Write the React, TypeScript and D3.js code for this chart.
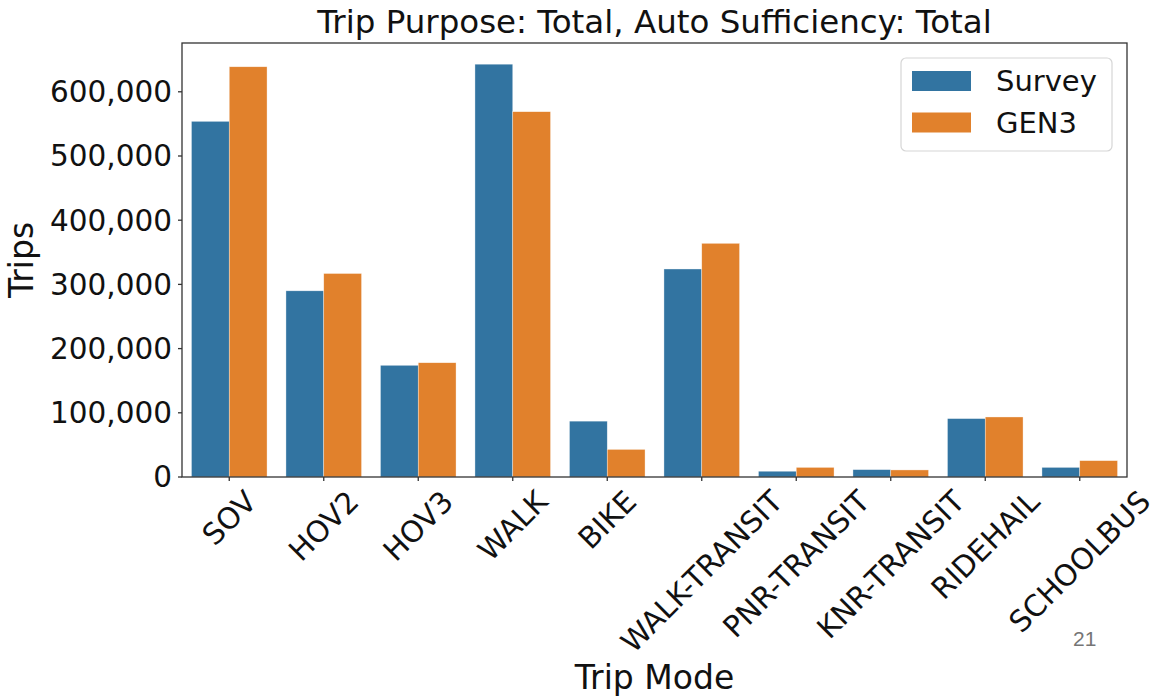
import React from "react";
import * as d3 from "d3";

const categories = ["SOV", "HOV2", "HOV3", "WALK", "BIKE", "WALK-TRANSIT", "PNR-TRANSIT", "KNR-TRANSIT", "RIDEHAIL", "SCHOOLBUS"];
const seriesNames = ["Survey", "GEN3"];
const surveyValues = [554000, 290000, 174000, 643000, 87000, 324000, 9000, 11500, 91000, 15000];
const gen3Values = [639000, 317000, 178000, 569000, 43000, 364000, 15000, 11000, 93500, 25500];
const yTicks = [0, 100000, 200000, 300000, 400000, 500000, 600000];
const colors = ["#3274a1", "#e1812c"];

const W = 1152, H = 698;
const M = { left: 182, right: 1127, top: 43, bottom: 477 };
const FONT = "DejaVu Sans, sans-serif";

function measure(text: string, size: number): number {
  if (typeof document === "undefined") return text.length * size * 0.6;
  const c = document.createElement("canvas");
  const ctx = c.getContext("2d");
  if (!ctx) return text.length * size * 0.6;
  ctx.font = `${size}px "DejaVu Sans"`;
  return ctx.measureText(text).width;
}

export default function App() {
  const x = d3.scaleBand<string>().domain(categories).range([M.left, M.right]).paddingInner(0).paddingOuter(0);
  const bw = x.bandwidth() * 0.8;
  const x1 = d3.scaleBand<string>().domain(seriesNames).range([0, bw]);
  const y = d3.scaleLinear().domain([0, 676000]).range([M.bottom, M.top]);
  const fmt = d3.format(",");
  const series = [surveyValues, gen3Values];
  const tickFont = 29.5;
  const labelTop = M.bottom + 7;

  return (
    <svg width={W} height={H} style={{ position: "absolute", left: 0, top: 0, background: "#fff" }} fontFamily={FONT}>
      <rect x={0} y={0} width={W} height={H} fill="#fff" />
      {series.map((vals, si) =>
        vals.map((v, i) => {
          const bx = (x(categories[i]) as number) + x.bandwidth() * 0.1 + (x1(seriesNames[si]) as number);
          return (
            <rect key={`${si}-${i}`} x={bx} y={y(v)} width={x1.bandwidth()} height={M.bottom - y(v)}
              fill={colors[si]} stroke="#fff" strokeWidth={0.6} strokeOpacity={0.6} />
          );
        })
      )}
      {/* spines */}
      <rect x={M.left} y={M.top} width={M.right - M.left} height={M.bottom - M.top} fill="none" stroke="#333" strokeWidth={1.3} />
      {/* y ticks */}
      {yTicks.map((t) => (
        <g key={t}>
          <line x1={M.left - 4} x2={M.left} y1={y(t)} y2={y(t)} stroke="#333" strokeWidth={1.3} />
          <text x={M.left - 10} y={y(t)} dy="0.35em" textAnchor="end" fontSize={tickFont} fill="#111">{fmt(t)}</text>
        </g>
      ))}
      {/* x ticks */}
      {categories.map((c) => {
        const cx = (x(c) as number) + x.bandwidth() / 2;
        const w = measure(c, tickFont);
        const h = tickFont * 1.164;
        const half = (w + h) / (2 * Math.SQRT2);
        const cy = labelTop + half;
        return (
          <g key={c}>
            <line x1={cx} x2={cx} y1={M.bottom} y2={M.bottom + 4} stroke="#333" strokeWidth={1.3} />
            <text transform={`translate(${cx},${cy}) rotate(-45)`} textAnchor="middle" y={tickFont * 0.346}
              fontSize={tickFont} fill="#111">{c}</text>
          </g>
        );
      })}
      {/* title */}
      <text x={(M.left + M.right) / 2} y={33} textAnchor="middle" fontSize={32.5} fill="#111">
        Trip Purpose: Total, Auto Sufficiency: Total
      </text>
      {/* axis labels */}
      <text x={(M.left + M.right) / 2} y={689} textAnchor="middle" fontSize={33} fill="#111">Trip Mode</text>
      <text transform={`translate(33,${(M.top + M.bottom) / 2}) rotate(-90)`} textAnchor="middle" fontSize={33} fill="#111">Trips</text>
      {/* legend */}
      <g>
        <rect x={901} y={58} width={211} height={93} rx={5} fill="#fff" fillOpacity={0.8} stroke="#d6d6d6" strokeWidth={1.2} />
        {seriesNames.map((s, i) => (
          <g key={s}>
            <rect x={912} y={71 + i * 41.5} width={59} height={20} fill={colors[i]} />
            <text x={996} y={81 + i * 41.5} dy="0.35em" fontSize={29} fill="#111">{s}</text>
          </g>
        ))}
      </g>
      {/* page number */}
      <text x={1073} y={646} fontSize={21} fill="#757575" fontFamily="Liberation Sans, Arial, sans-serif">21</text>
    </svg>
  );
}
